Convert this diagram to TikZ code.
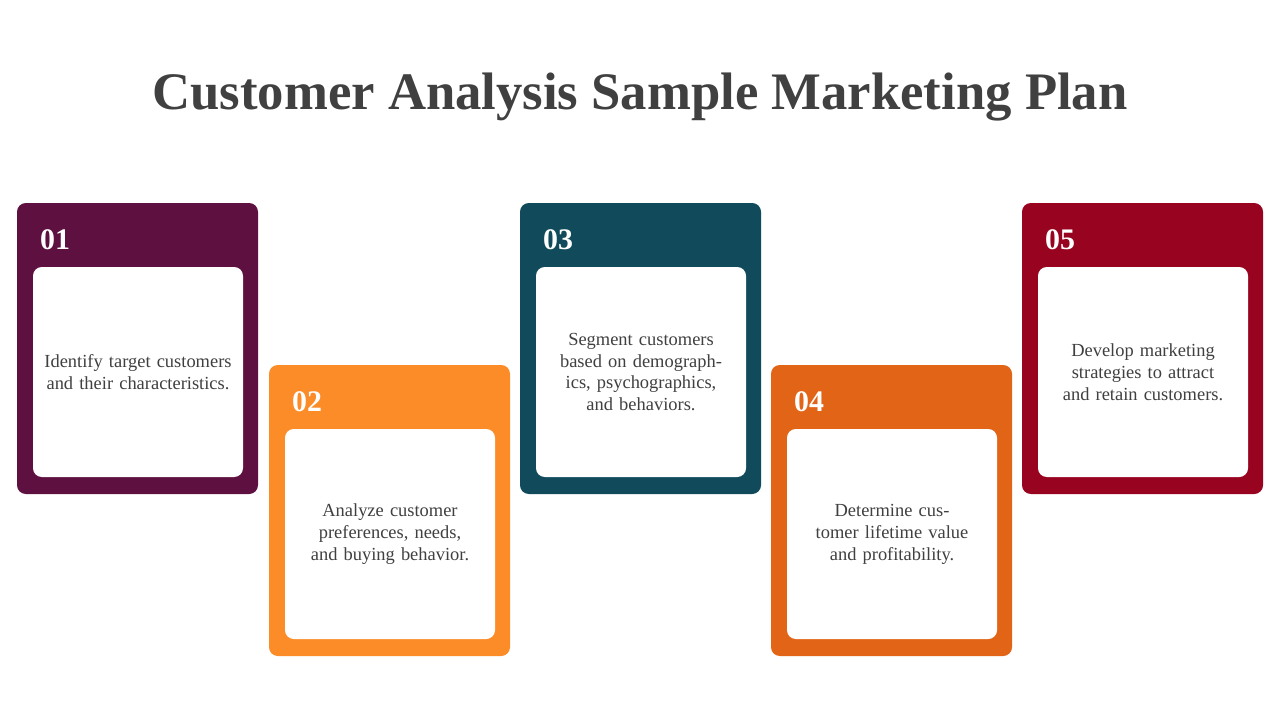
\documentclass[tikz,border=0pt]{standalone}
\usepackage{fontspec}
\setmainfont{Liberation Serif}
\definecolor{cardA}{HTML}{5E1040}
\definecolor{cardB}{HTML}{FB8C28}
\definecolor{cardC}{HTML}{114B5B}
\definecolor{cardD}{HTML}{E26416}
\definecolor{cardE}{HTML}{98031F}
\definecolor{textgrey}{HTML}{404040}
\begin{document}
\begin{tikzpicture}[x=0.02cm, y=-0.02cm,
    card/.style={rounded corners=5pt},
    inner/.style={fill=white, rounded corners=5pt},
    num/.style={font=\fontsize{17}{20}\selectfont\bfseries, text=white, anchor=west},
    body/.style={font=\fontsize{10.5}{12.5}\selectfont, text=textgrey, align=center, text width=3.8cm}
]
    \useasboundingbox (0,0) rectangle (1280,720);
    % Titel
    \node[font=\fontsize{30}{34}\selectfont\bfseries, text=textgrey] (title) at (640,97) {Customer Analysis Sample Marketing Plan};

    % Karten
    \foreach \x/\y/\c/\n/\t in {
        17/203/cardA/01/{Identify target customers and their characteristics.},
        269/365/cardB/02/{Analyze customer preferences, needs, and buying behavior.},
        520/203/cardC/03/{Segment customers based on demographics, psychographics, and behaviors.},
        771/365/cardD/04/{Determine customer lifetime value and profitability.},
        1022/203/cardE/05/{Develop marketing strategies to attract and retain customers.}} {
        \fill[card, \c] (\x,\y) rectangle ++(241,291);
        \fill[inner] (\x+16,\y+64) rectangle ++(210,210);
        \node[num] (num\n) at (\x+17,\y+37) {\n};
        \node[body] (text\n) at (\x+121,\y+169) {\t};
    }
\end{tikzpicture}
\end{document}
